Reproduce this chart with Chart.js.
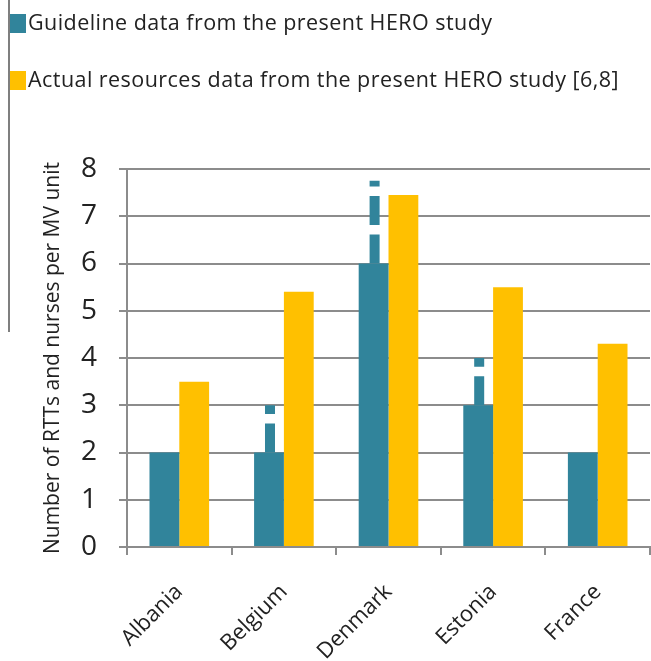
<!DOCTYPE html>
<html lang="en">
<head>
    <meta charset="UTF-8" />
    <title>Guideline vs actual RTT and nurse resources per MV unit</title>
    <script src="https://cdn.jsdelivr.net/npm/chart.js@4.4.1/dist/chart.umd.min.js"></script>
    <style>
        body { margin: 0; background: #fff; font-family: 'Open Sans', sans-serif; }
        #wrap { position: relative; width: 651px; height: 661px; overflow: hidden; }
        #legend { position: absolute; left: 8px; top: 0; height: 332px; border-left: 2px solid #7f7f7f; }
        .item { position: absolute; left: 0px; white-space: nowrap; font-size: 21.5px; letter-spacing: 0.45px; color: #222; }
        .box { display: inline-block; width: 16px; height: 19px; vertical-align: -3px; margin-right: 2px; }
    </style>
</head>
<body>
<div id="wrap">
    <canvas id="chart" width="651" height="661"></canvas>
    <div id="legend">
        <div class="item" style="top:7px"><span class="box" style="background:#31849b"></span><span id="lab0"></span></div>
        <div class="item" style="top:64px"><span class="box" style="background:#ffc000"></span><span id="lab1"></span></div>
    </div>
</div>
<script>
    // data
    const countries = ['Albania', 'Belgium', 'Denmark', 'Estonia', 'France'];
    const guideline = [2, 2, 6, 3, 2];            // solid part of the guideline bar
    const guidelineHigh = [null, 3, 7.75, 4, null]; // dashed upper range
    const actual = [3.5, 5.4, 7.45, 5.5, 4.3];
    const yTicks = [0, 1, 2, 3, 4, 5, 6, 7, 8];
    const seriesNames = ['Guideline data from the present HERO study',
                         'Actual resources data from the present HERO study [6,8]'];

    const teal = '#31849b';
    const gold = '#ffc000';
    const gridGrey = '#8c8c8c';

    document.getElementById('lab0').textContent = seriesNames[0];
    document.getElementById('lab1').textContent = seriesNames[1];

    // dashed range on top of the guideline bars
    const rangePlugin = {
        id: 'rangeDash',
        afterDatasetsDraw(chart) {
            const meta = chart.getDatasetMeta(0);
            const y = chart.scales.y;
            const ctx = chart.ctx;
            ctx.save();
            ctx.strokeStyle = teal;
            ctx.lineWidth = 10;
            ctx.setLineDash([29, 9.5]);
            guidelineHigh.forEach((hi, i) => {
                if (hi == null) return;
                const bar = meta.data[i];
                ctx.beginPath();
                ctx.moveTo(bar.x + 1, y.getPixelForValue(guideline[i]));
                ctx.lineTo(bar.x + 1, y.getPixelForValue(hi));
                ctx.stroke();
            });
            ctx.restore();
        }
    };

    const ctx = document.getElementById('chart').getContext('2d');
    new Chart(ctx, {
        type: 'bar',
        data: {
            labels: countries,
            datasets: [
                { label: seriesNames[0], data: guideline, backgroundColor: teal },
                { label: seriesNames[1], data: actual, backgroundColor: gold }
            ]
        },
        options: {
            responsive: false,
            animation: false,
            events: [],
            layout: { padding: { top: 169, right: 1, left: 0, bottom: 0 } },
            datasets: { bar: { categoryPercentage: 0.57, barPercentage: 1 } },
            plugins: { legend: { display: false }, tooltip: { enabled: false } },
            scales: {
                x: {
                    grid: { offset: true, drawOnChartArea: false, drawTicks: true, tickLength: 8, color: gridGrey, lineWidth: 2 },
                    border: { color: gridGrey, width: 2 },
                    ticks: { minRotation: 45, maxRotation: 45, padding: 24, color: '#222',
                             font: { family: 'Open Sans', size: 22 } },
                    afterFit: s => { s.height = 114; }
                },
                y: {
                    min: 0, max: 8,
                    afterBuildTicks: s => { s.ticks = yTicks.map(v => ({ value: v })); },
                    grid: { tickLength: 8, color: gridGrey, lineWidth: 2 },
                    border: { color: gridGrey, width: 2 },
                    ticks: { padding: 22, color: '#222', font: { family: 'Open Sans', size: 28 } },
                    title: { display: true, text: 'Number of RTTs and nurses per MV unit', color: '#222',
                             font: { family: 'Open Sans', size: 21 }, padding: { top: 40, bottom: 0 } },
                    afterFit: s => { s.width = 127; }
                }
            }
        },
        plugins: [rangePlugin]
    });
</script>
</body>
</html>
